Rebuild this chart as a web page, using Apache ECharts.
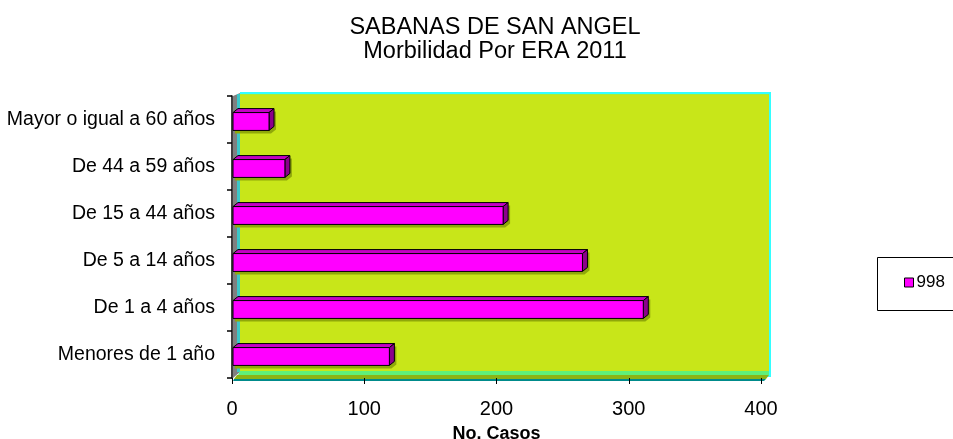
<!DOCTYPE html>
<html>
<head>
<meta charset="utf-8">
<title>SABANAS DE SAN ANGEL - Morbilidad Por ERA 2011</title>
<script src="https://cdn.jsdelivr.net/npm/echarts@6/dist/echarts.min.js"></script>
<style>
  html, body { margin: 0; padding: 0; background: #fff; }
  #chart { width: 953px; height: 439px; }
</style>
</head>
<body>
<div id="chart"></div>
<script>
// Age groups, bottom to top as they appear on the vertical axis
const categories = [
  'Menores de 1 año',
  'De 1 a 4 años',
  'De 5 a 14 años',
  'De 15 a 44 años',
  'De 44 a 59 años',
  'Mayor o igual a 60 años'
];
// Cases per age group (series "998")
const casos = [119, 311, 265, 205, 40, 28];
const seriesName = '998';
const xTicks = [0, 100, 200, 300, 400];

const FONT = "'Liberation Sans', Arial, sans-serif";

const chart = echarts.init(document.getElementById('chart'), null, { renderer: 'canvas' });

// 3D-looking bar: shadow, front face, top face, right side face
function renderBar(params, api) {
  const val = api.value(0);
  const cat = api.value(1);
  const base = api.coord([0, cat]);
  const end = api.coord([val, cat]);
  const band = api.size([0, 1])[1];
  const fh = band * 0.38;
  const dx = 5, dy = 4;
  const cy = base[1] + 2;
  const x0 = base[0] + 1;
  const x1 = end[0];
  const yt = cy - fh / 2;
  const yb = cy + fh / 2;
  const sx = 2, sy = 3;
  return {
    type: 'group',
    children: [
      {
        type: 'polygon',
        shape: { points: [
          [x0 + sx, yt + sy], [x0 + sx, yb + sy], [x1 + sx, yb + sy],
          [x1 + dx + sx, yb - dy + sy], [x1 + dx + sx, yt - dy + sy]
        ] },
        style: { fill: '#8fa80a' }
      },
      {
        type: 'polygon',
        shape: { points: [[x0, yt], [x1, yt], [x1 + dx, yt - dy], [x0 + dx, yt - dy]] },
        style: { fill: '#c400c4', stroke: '#000', lineWidth: 1 }
      },
      {
        type: 'polygon',
        shape: { points: [[x1, yt], [x1 + dx, yt - dy], [x1 + dx, yb - dy], [x1, yb]] },
        style: { fill: '#8b008b', stroke: '#000', lineWidth: 1 }
      },
      {
        type: 'rect',
        shape: { x: x0, y: yt, width: x1 - x0, height: fh },
        style: { fill: '#ff00ff', stroke: '#000', lineWidth: 1 }
      }
    ]
  };
}

const option = {
  backgroundColor: '#ffffff',
  animation: false,
  title: {
    text: 'SABANAS DE SAN ANGEL\nMorbilidad Por ERA 2011',
    left: 490,
    top: 11,
    textAlign: 'center',
    textStyle: {
      fontFamily: FONT,
      fontSize: 23.5,
      fontWeight: 'normal',
      color: '#000',
      lineHeight: 24
    }
  },
  legend: {
    data: [{
      name: seriesName,
      icon: 'rect',
      itemStyle: { color: '#ff00ff', borderColor: '#000', borderWidth: 1 }
    }],
    left: 904,
    top: 274,
    padding: 0,
    itemWidth: 9,
    itemHeight: 9,
    textStyle: { fontFamily: FONT, fontSize: 17, color: '#000', padding: [0, 0, 0, -2] }
  },
  graphic: [
    // back wall
    { type: 'rect', z: 1, shape: { x: 240, y: 92, width: 531, height: 285 }, style: { fill: '#33ffff' } },
    { type: 'rect', z: 1, shape: { x: 240, y: 94, width: 529, height: 2 }, style: { fill: '#a6ee3a' } },
    { type: 'rect', z: 1, shape: { x: 240, y: 95, width: 529, height: 277 }, style: { fill: '#c8e619' } },
    // left side wall
    { type: 'polygon', z: 1, shape: { points: [[233, 96], [240, 93], [240, 372], [233, 378]] }, style: { fill: '#808080' } },
    { type: 'rect', z: 1, shape: { x: 237, y: 94, width: 3, height: 278 }, style: { fill: '#3cc8c8' } },
    // floor
    { type: 'polygon', z: 1, shape: { points: [[240, 371], [769, 371], [769, 375], [238, 375]] }, style: { fill: '#5ff07a' } },
    { type: 'polygon', z: 1, shape: { points: [[237, 375], [769, 375], [766, 379], [234, 379]] }, style: { fill: '#8cb414' } },
    { type: 'polygon', z: 1, shape: { points: [[234, 379], [766, 379], [764, 381], [233, 381]] }, style: { fill: '#008b8b' } },
    // legend box
    { type: 'rect', z: 1, shape: { x: 877.5, y: 257.5, width: 100, height: 53 }, style: { fill: '#fff', stroke: '#000', lineWidth: 1 } }
  ],
  grid: {
    left: 232,
    right: 192,
    top: 96,
    bottom: 61,
    containLabel: false,
    outerBoundsMode: 'none'
  },
  xAxis: {
    type: 'value',
    min: xTicks[0],
    max: xTicks[xTicks.length - 1],
    interval: 100,
    z: 10,
    axisLine: { show: false },
    axisTick: { show: true, length: 6, inside: false, lineStyle: { color: '#000', width: 1 } },
    splitLine: { show: false },
    axisLabel: {
      fontFamily: FONT, fontSize: 20, color: '#000', margin: 31,
      verticalAlign: 'middle'
    },
    name: 'No. Casos',
    nameLocation: 'middle',
    nameGap: 56,
    nameTextStyle: { fontFamily: FONT, fontSize: 18, fontWeight: 'bold', color: '#000', verticalAlign: 'middle' }
  },
  yAxis: {
    type: 'category',
    data: categories,
    z: 10,
    axisLine: { show: true, lineStyle: { color: '#000', width: 1.5 } },
    axisTick: { show: true, length: 5, inside: false, lineStyle: { color: '#000', width: 1.5 } },
    axisLabel: {
      fontFamily: FONT, fontSize: 19.5, color: '#000', margin: 17,
      padding: [6, 0, 0, 0]
    },
    splitLine: { show: false }
  },
  series: [{
    name: seriesName,
    type: 'custom',
    z: 5,
    coordinateSystem: 'cartesian2d',
    renderItem: renderBar,
    encode: { x: 0, y: 1 },
    itemStyle: { color: '#ff00ff' },
    data: casos.map((v, i) => [v, i])
  }]
};

chart.setOption(option);
</script>
</body>
</html>
